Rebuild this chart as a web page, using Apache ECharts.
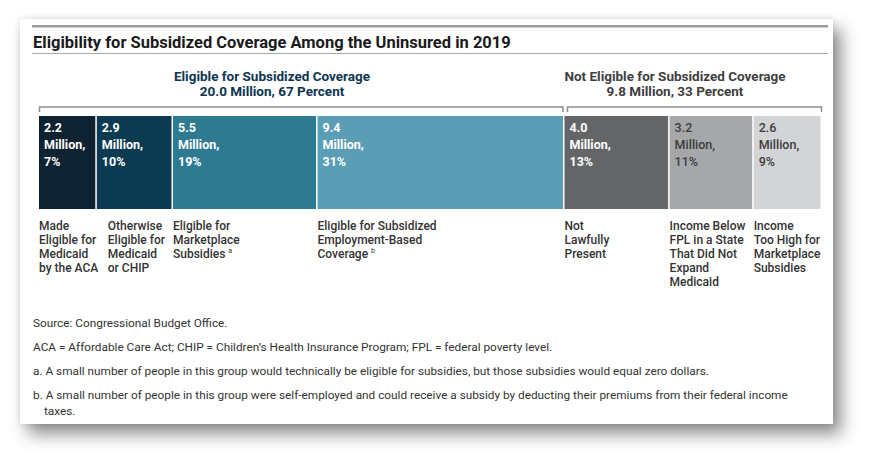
<!DOCTYPE html>
<html><head><meta charset="utf-8">
<script src="https://cdn.jsdelivr.net/npm/echarts@6.0.0/dist/echarts.min.js"></script>
<style>
html,body{margin:0;padding:0;background:#fff;width:874px;height:464px;overflow:hidden;}
#card{position:absolute;left:20px;top:19px;width:813px;height:405px;background:#fff;
box-shadow:8px 10px 16px rgba(0,0,0,0.45),0 0 6px rgba(0,0,0,0.12);}
#chart{position:absolute;left:0;top:0;width:874px;height:464px;}
</style></head>
<body><div id="card"></div><div id="chart"></div>
<script>
const chartTitle = 'Eligibility for Subsidized Coverage Among the Uninsured in 2019';
const categories = [
  'Made\nEligible for\nMedicaid\nby the ACA',
  'Otherwise\nEligible for\nMedicaid\nor CHIP',
  'Eligible for\nMarketplace\nSubsidies {sup|a}',
  'Eligible for Subsidized\nEmployment-Based\nCoverage {sup|b}',
  'Not\nLawfully\nPresent',
  'Income Below\nFPL in a State\nThat Did Not\nExpand\nMedicaid',
  'Income\nToo High for\nMarketplace\nSubsidies'
];
const values = [2.2, 2.9, 5.5, 9.4, 4.0, 3.2, 2.6];
const percents = [7, 10, 19, 31, 13, 11, 9];
const groupNames = ['Eligible for Subsidized Coverage', 'Not Eligible for Subsidized Coverage'];
const groupTotals = [20.0, 9.8];
const groupPercents = [67, 33];
const notes = [
  'Source: Congressional Budget Office.',
  'ACA = Affordable Care Act; CHIP = Children\u2019s Health Insurance Program; FPL = federal poverty level.',
  'a. A small number of people in this group would technically be eligible for subsidies, but those subsidies would equal zero dollars.',
  'b. A small number of people in this group were self-employed and could receive a subsidy by deducting their premiums from their federal income',
  'taxes.'
];

const colors = ['#0f2232', '#0b3a51', '#2e7a90', '#5b9db5', '#646567', '#a6a7a9', '#d3d4d5'];
const labelColors = ['#fff', '#fff', '#fff', '#fff', '#fff', '#3c3c3c', '#3c3c3c'];
const F = "Roboto, sans-serif";

const total = values.reduce((a, b) => a + b, 0);
let acc = 0;
const barData = values.map((v, i) => { const d = [acc, acc + v, i]; acc += v; return d; });
let gacc = 0;
const groupData = groupTotals.map((v, i) => { const d = [gacc, gacc + v, i]; gacc += v; return d; });

function renderBar(params, api) {
  const i = api.value(2);
  const p0 = api.coord([api.value(0), 0]);
  const p1 = api.coord([api.value(1), 0]);
  const band = api.size([0, 1])[1];
  const top = p0[1] - band / 2;
  const x0 = p0[0];
  const w = p1[0] - p0[0] - 1.5;
  const catShift = i === 1 ? 11 : 0;
  return {
    type: 'group',
    children: [
      { type: 'rect', shape: { x: x0, y: top, width: w, height: band }, style: { fill: colors[i] } },
      { type: 'text', x: x0 + 5, y: top + 3,
        style: { text: values[i].toFixed(1) + '\nMillion,\n' + percents[i] + '%',
          fill: labelColors[i], fontFamily: F, fontSize: 12.5, fontWeight: i >= 5 ? 500 : 'bold', lineHeight: 17 } },
      { type: 'text', x: x0 + catShift, y: top + band + 10,
        style: { text: categories[i], fill: '#333', fontFamily: F, fontSize: 12, fontWeight: 500, lineHeight: 14,
          rich: { sup: { fontSize: 7, fontFamily: F, fill: '#333', padding: [0, 0, 6, 0] } } } }
    ]
  };
}

function renderBracket(params, api) {
  const i = api.value(2);
  const p0 = api.coord([api.value(0), 0]);
  const p1 = api.coord([api.value(1), 0]);
  const band = api.size([0, 1])[1];
  const y = p0[1] - band / 2 - 9;
  const a = i === 0 ? 0.5 : 3;
  const b = i === 0 ? 1.5 : 0.5;
  return {
    type: 'polyline',
    shape: { points: [[p0[0] + a, y + 5], [p0[0] + a, y], [p1[0] - b, y], [p1[0] - b, y + 5]] },
    style: { stroke: '#8c8c8c', lineWidth: 1.5, fill: null }
  };
}

const headingX = [272, 675];
const headingColors = ['#0e3550', '#404040'];
const graphics = [
  { type: 'rect', shape: { x: 32, y: 25, width: 796, height: 2.5 }, style: { fill: '#9c9c9c' } },
  { type: 'text', x: 33, y: 42, style: { text: chartTitle, fontFamily: F, fontSize: 16.5, fontWeight: 'bold', fill: '#1a1a1a', verticalAlign: 'middle' } },
  { type: 'rect', shape: { x: 32, y: 53, width: 796, height: 1 }, style: { fill: '#a8a8a8' } }
];
groupNames.forEach((g, i) => {
  graphics.push({ type: 'text', x: headingX[i], y: 76, style: { text: g, fontFamily: F, fontSize: 13.5, fontWeight: 'bold', fill: headingColors[i], align: 'center', verticalAlign: 'middle' } });
  graphics.push({ type: 'text', x: headingX[i], y: 91, style: { text: groupTotals[i].toFixed(1) + ' Million, ' + groupPercents[i] + ' Percent', fontFamily: F, fontSize: 13.5, fontWeight: 'bold', fill: headingColors[i], align: 'center', verticalAlign: 'middle' } });
});
const noteY = [323, 347, 371, 395, 411];
const noteX = [33, 33, 33, 33, 44];
notes.forEach((n, i) => {
  graphics.push({ type: 'text', x: noteX[i], y: noteY[i], style: { text: n, fontFamily: F, fontSize: 11.8, fill: '#333', verticalAlign: 'middle' } });
});

const chart = echarts.init(document.getElementById('chart'), null, { renderer: 'svg' });
chart.setOption({
  animation: false,
  grid: { left: 39, right: 52, top: 116, height: 93 },
  xAxis: { type: 'value', min: 0, max: total, show: false },
  yAxis: { type: 'category', data: ['Uninsured'], show: false },
  graphic: graphics,
  series: [
    { type: 'custom', renderItem: renderBracket, data: groupData, encode: { x: [0, 1] }, silent: true },
    { type: 'custom', renderItem: renderBar, data: barData, encode: { x: [0, 1] }, silent: true }
  ]
});
</script></body></html>
